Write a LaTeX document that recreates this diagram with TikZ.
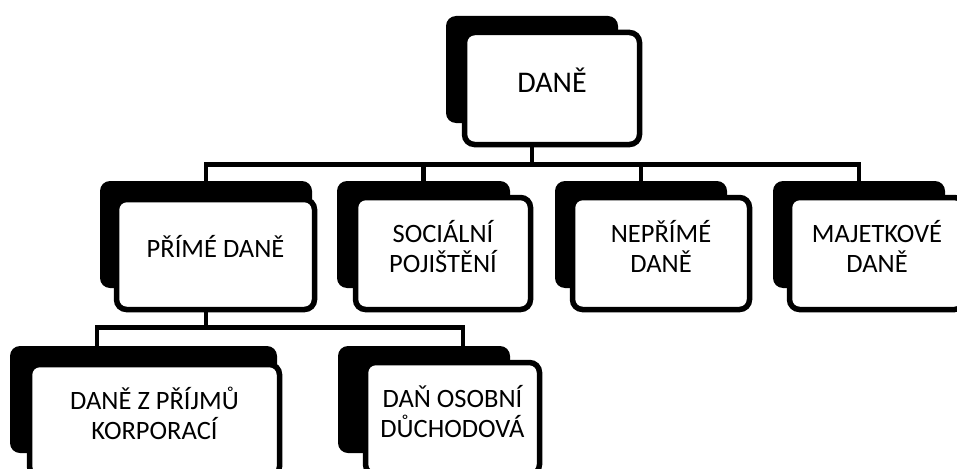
\documentclass[tikz,border=0pt]{standalone}
\usepackage{fontspec}
\setmainfont{Carlito}
\begin{document}
\begin{tikzpicture}[x=1pt,y=-1pt,
  backbox/.style={fill=black, rounded corners=10pt, inner sep=0pt,
    minimum width=172pt, minimum height=107pt},
  frontbox/.style={draw=black, fill=white, line width=5.5pt, rounded corners=10pt,
    inner sep=0pt, minimum width=175pt, minimum height=112pt, align=center,
    font=\fontsize{26.5}{30}\selectfont, text depth=14pt},
  conn/.style={line width=4.7pt}]
\useasboundingbox (0,0) rectangle (957,468);
\clip (0,0) rectangle (957,468);
% top
\node[backbox] (b0) at (532,69.5) {};
\node[frontbox, font=\fontsize{30}{34}\selectfont, text height=22pt, text depth=14.6pt] (f0) at (552,88.5) {DANĚ};
% level 2
\node[backbox, minimum width=212pt] (b1) at (206,234.5) {};
\node[frontbox, minimum width=198pt, minimum height=110pt, text height=20pt, text depth=14.2pt] (f1) at (215.5,254.5) {PŘÍMÉ DANĚ};
\node[backbox, minimum width=173pt] (b2) at (423.5,234.5) {};
\node[frontbox] (f2) at (443,253.5) {SOCIÁLNÍ\\POJIŠTĚNÍ};
\node[backbox] (b3) at (641,234.5) {};
\node[frontbox, minimum width=177pt] (f3) at (661,253.5) {NEPŘÍMÉ\\DANĚ};
\node[backbox] (b4) at (859,234.5) {};
\node[frontbox, minimum width=175pt] (f4) at (877,253.5) {MAJETKOVÉ\\DANĚ};
% level 3
\node[backbox, minimum width=267pt] (b5) at (143.5,399.5) {};
\node[frontbox, minimum width=250pt] (f5) at (154.5,420.5) {DANĚ Z PŘÍJMŮ\\KORPORACÍ};
\node[backbox] (b6) at (424,399.5) {};
\node[frontbox, minimum width=174pt] (f6) at (452.5,418.5) {DAŇ OSOBNÍ\\DŮCHODOVÁ};
% connectors
\draw[conn] (b0.center |- f0.south) -- ++(0,17.5) coordinate (h0);
\draw[conn] (b1.north) |- (h0) -| (b4.north);
\draw[conn] (b2.north) -- (b2.north |- h0);
\draw[conn] (b3.north) -- (b3.north |- h0);
\coordinate (t5) at (97,346);
\coordinate (t6) at (463,346);
\draw[conn] (b1.center |- f1.south) -- ++(0,15.5) coordinate (h1);
\draw[conn] (t5) |- (h1) -| (t6);
\end{tikzpicture}
\end{document}
